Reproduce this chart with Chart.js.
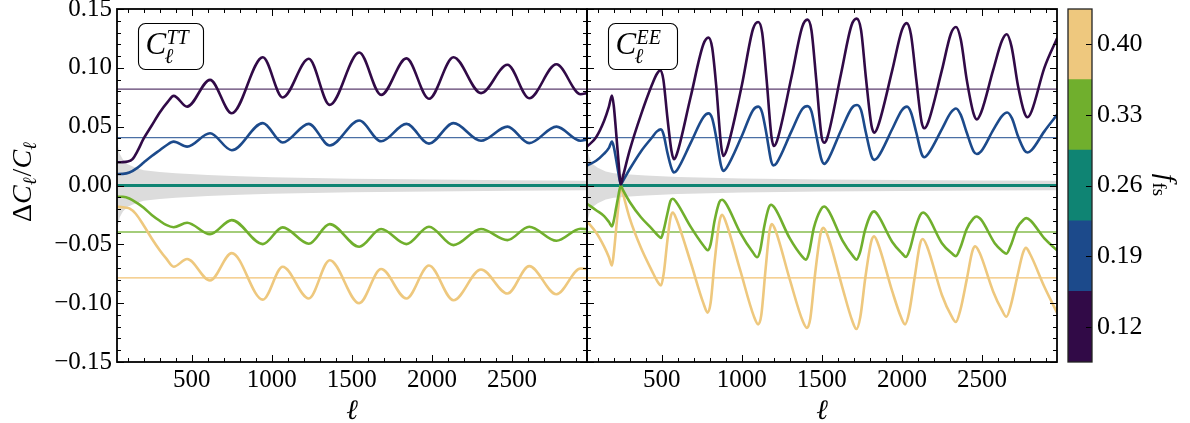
<!DOCTYPE html>
<html><head><meta charset="utf-8">
<script src="https://cdn.jsdelivr.net/npm/chart.js@4.4.1/dist/chart.umd.min.js"></script>
<style>
html,body{margin:0;padding:0;background:#fff;}
#wrap{position:relative;width:1190px;height:423px;overflow:hidden;background:#fff;}
canvas{position:absolute;top:0;}
</style></head><body>
<div id="wrap">
<canvas id="tt" width="600" height="423" style="left:0px"></canvas>
<canvas id="ee" width="600" height="423" style="left:500px"></canvas>
<canvas id="cb" width="130" height="423" style="left:1060px"></canvas>
</div>
<script>
// ---------------- data ----------------
const ELL_RANGE = [33, 2969];
const Y_RANGE = [-0.15, 0.15];
const X_TICK_LABELS = [500, 1000, 1500, 2000, 2500];
const X_MINOR_STEP = 100;
const Y_TICK_LABELS = [-0.15, -0.10, -0.05, 0.00, 0.05, 0.10, 0.15];
const Y_MINOR_STEP = 0.01;
const FFS_LABELS = ['0.12', '0.19', '0.26', '0.33', '0.40'];
const FFS_COLORS = ['#310a47', '#1c4a8b', '#0f8473', '#70af2d', '#eec87e'];
const REF_COLORS = ['#5b3d6e', '#4a6fa5', '#0f8473', '#86bd4e', '#f2c272'];
const REF_LEVELS = [0.0819, 0.0407, 0.0, -0.0395, -0.0785];

// TT panel
const TT_ELL_012 = [33,60,100,130,160,200,250,300,350,387,471,614,750,944,1068,1231,1362,1546,1683,1841,1982,2135,2307,2472,2608,2778,2929,2969];
const TT_012 = [0.0197,0.0198,0.0203,0.0225,0.029,0.040,0.051,0.062,0.071,0.0762,0.067,0.0898,0.0614,0.109,0.0748,0.1077,0.0685,0.113,0.077,0.108,0.0737,0.109,0.0785,0.1026,0.0742,0.103,0.0776,0.0785];
const TT_ELL_019 = [33,70,110,160,200,250,300,340,387,471,614,750,944,1068,1231,1362,1546,1683,1841,1982,2135,2307,2472,2608,2778,2929,2969];
const TT_019 = [0.0098,0.0099,0.011,0.015,0.0195,0.025,0.030,0.034,0.0373,0.033,0.0444,0.030,0.053,0.0365,0.0524,0.034,0.0552,0.0376,0.0524,0.0356,0.053,0.038,0.050,0.036,0.050,0.038,0.039];
const TT_ELL_026 = [33, 2969];
const TT_026 = [0.0, 0.0];
const TT_ELL_033 = [33,70,110,160,200,250,300,340,387,471,614,750,944,1068,1231,1362,1546,1683,1841,1982,2135,2307,2472,2608,2778,2929,2969];
const TT_033 = [-0.0095,-0.0096,-0.011,-0.015,-0.019,-0.025,-0.030,-0.0335,-0.0355,-0.0316,-0.0414,-0.0294,-0.0498,-0.0356,-0.0495,-0.0328,-0.052,-0.037,-0.0498,-0.035,-0.0507,-0.037,-0.0464,-0.035,-0.047,-0.0368,-0.037];
const TT_ELL_040 = [33,70,110,150,200,250,300,340,387,471,614,750,944,1068,1231,1362,1546,1683,1841,1982,2135,2307,2472,2608,2778,2929,2969];
const TT_040 = [-0.018,-0.0185,-0.0195,-0.024,-0.034,-0.045,-0.055,-0.062,-0.069,-0.0625,-0.0808,-0.0575,-0.097,-0.069,-0.096,-0.0635,-0.100,-0.071,-0.096,-0.068,-0.0975,-0.0714,-0.0918,-0.0685,-0.0924,-0.0705,-0.071];

// EE panel
const EE_ELL_012 = [33,90,140,170,189,200,215,230,244,258,300,370,440,470,492,510,535,560,576,595,680,760,792,815,840,870,885,905,1000,1070,1102,1127,1155,1185,1200,1220,1310,1378,1410,1435,1465,1498,1515,1535,1620,1685,1718,1745,1775,1810,1828,1850,1940,2000,2030,2057,2090,2123,2140,2165,2250,2306,2338,2368,2405,2448,2468,2495,2570,2625,2655,2685,2725,2765,2785,2810,2890,2969];
const EE_012 = [0.033,0.041,0.055,0.067,0.0765,0.068,0.045,0.020,0.001,0.008,0.030,0.060,0.086,0.095,0.098,0.090,0.058,0.030,0.0223,0.027,0.075,0.120,0.1257,0.117,0.085,0.035,0.0251,0.030,0.085,0.133,0.139,0.130,0.090,0.042,0.0336,0.038,0.092,0.135,0.141,0.132,0.090,0.042,0.0364,0.041,0.095,0.136,0.1418,0.132,0.092,0.051,0.0449,0.050,0.098,0.132,0.138,0.128,0.090,0.054,0.0486,0.054,0.098,0.129,0.1347,0.124,0.090,0.061,0.0562,0.062,0.098,0.123,0.1285,0.118,0.085,0.062,0.058,0.063,0.100,0.125];
const EE_ELL_019 = [33,90,140,170,189,200,215,230,244,258,300,370,440,470,495,512,535,560,576,595,680,760,792,815,840,870,885,905,1000,1070,1103,1127,1155,1183,1197,1217,1310,1378,1410,1435,1465,1498,1515,1535,1620,1688,1720,1745,1775,1810,1828,1850,1940,2000,2032,2057,2090,2123,2140,2165,2250,2306,2338,2368,2405,2448,2468,2495,2570,2625,2658,2688,2725,2765,2785,2810,2890,2969];
const EE_019 = [0.017,0.021,0.027,0.032,0.0373,0.033,0.022,0.010,0.001,0.004,0.014,0.029,0.041,0.046,0.0477,0.043,0.028,0.015,0.011,0.013,0.036,0.058,0.0613,0.057,0.041,0.017,0.0124,0.015,0.042,0.064,0.067,0.062,0.043,0.021,0.017,0.019,0.046,0.065,0.0675,0.063,0.043,0.022,0.0184,0.021,0.047,0.066,0.0684,0.064,0.045,0.025,0.0218,0.024,0.048,0.064,0.067,0.062,0.045,0.027,0.024,0.027,0.048,0.062,0.0655,0.060,0.045,0.029,0.0268,0.029,0.047,0.059,0.0621,0.057,0.042,0.030,0.028,0.030,0.046,0.060];
const EE_ELL_026 = [33, 2969];
const EE_026 = [0.0, 0.0];
const EE_ELL_033 = [33,90,140,170,189,200,215,230,244,258,300,370,440,480,495,512,535,555,569,590,680,760,787,805,830,860,877,900,990,1070,1096,1115,1140,1168,1183,1205,1300,1375,1400,1420,1450,1495,1514,1540,1630,1695,1716,1738,1770,1808,1826,1850,1940,2003,2025,2050,2085,2115,2132,2160,2250,2315,2337,2365,2405,2447,2466,2495,2580,2630,2653,2680,2720,2760,2777,2805,2890,2969];
const EE_033 = [-0.0155,-0.021,-0.026,-0.031,-0.0347,-0.030,-0.019,-0.008,0.0,-0.004,-0.014,-0.027,-0.037,-0.043,-0.0446,-0.038,-0.024,-0.013,-0.0113,-0.014,-0.035,-0.051,-0.055,-0.050,-0.030,-0.014,-0.0121,-0.015,-0.040,-0.057,-0.061,-0.055,-0.035,-0.019,-0.0164,-0.019,-0.045,-0.060,-0.063,-0.057,-0.036,-0.020,-0.0178,-0.021,-0.047,-0.060,-0.063,-0.057,-0.038,-0.024,-0.022,-0.025,-0.048,-0.058,-0.0607,-0.054,-0.036,-0.025,-0.0229,-0.026,-0.049,-0.058,-0.060,-0.053,-0.037,-0.028,-0.0263,-0.029,-0.049,-0.056,-0.058,-0.051,-0.036,-0.029,-0.0277,-0.030,-0.045,-0.055];
const EE_ELL_040 = [33,90,140,170,189,200,215,230,244,258,300,370,440,475,495,512,535,555,569,590,680,760,787,805,830,860,877,900,990,1075,1103,1122,1148,1173,1188,1210,1300,1380,1407,1428,1458,1492,1509,1535,1625,1690,1716,1740,1772,1808,1826,1850,1940,1995,2020,2045,2080,2113,2130,2158,2250,2310,2337,2365,2405,2440,2458,2485,2570,2625,2653,2682,2720,2757,2775,2800,2890,2969];
const EE_040 = [-0.0305,-0.040,-0.052,-0.061,-0.068,-0.058,-0.037,-0.016,0.0,-0.007,-0.028,-0.053,-0.073,-0.082,-0.085,-0.075,-0.047,-0.027,-0.0229,-0.028,-0.065,-0.100,-0.108,-0.100,-0.065,-0.031,-0.0249,-0.031,-0.072,-0.111,-0.118,-0.110,-0.072,-0.039,-0.0328,-0.038,-0.080,-0.115,-0.121,-0.113,-0.075,-0.041,-0.036,-0.042,-0.085,-0.115,-0.122,-0.112,-0.078,-0.048,-0.0432,-0.049,-0.090,-0.112,-0.118,-0.108,-0.078,-0.050,-0.0455,-0.052,-0.093,-0.111,-0.116,-0.106,-0.080,-0.056,-0.0517,-0.057,-0.090,-0.106,-0.1116,-0.101,-0.078,-0.057,-0.053,-0.058,-0.086,-0.108];

// grey error band (half width)
const BAND_ELL = [33,40,50,70,100,150,200,300,400,600,800,1000,1500,2000,2500,2969];
const BAND_TT = [0.040,0.033,0.027,0.022,0.018,0.015,0.013,0.0115,0.0105,0.009,0.0078,0.007,0.0058,0.005,0.0045,0.004];
const BAND_EE = [0.034,0.028,0.023,0.018,0.015,0.012,0.0105,0.0093,0.0085,0.0072,0.0066,0.006,0.0052,0.0047,0.0043,0.004];

// ---------------- rendering ----------------
const SERIF = "'Liberation Serif','DejaVu Serif',serif";
const pts = (xs, ys) => xs.map((x, i) => ({x: x, y: ys[i]}));
const X_TICKS = [];
for (let v = X_MINOR_STEP; v < ELL_RANGE[1]; v += X_MINOR_STEP) if (v > ELL_RANGE[0]) X_TICKS.push(v);
const Y_TICKS = [];
for (let k = Math.round(Y_RANGE[0] / Y_MINOR_STEP); k <= Math.round(Y_RANGE[1] / Y_MINOR_STEP); k++) Y_TICKS.push(k);

function drawParts(ctx, parts, x, y, align) {
  let w = 0;
  parts.forEach(p => { ctx.font = p.font; p.w = ctx.measureText(p.t).width; w += (p.dx || 0) + p.w; });
  let cx = align === 'center' ? x - w / 2 : x;
  parts.forEach(p => { ctx.font = p.font; cx += (p.dx || 0); ctx.fillText(p.t, cx, y + (p.dy || 0)); cx += p.w; });
}

const panelDeco = {
  id: 'panelDeco',
  afterDatasetsDraw(chart, args, opts) {
    const {ctx, chartArea: a, scales} = chart;
    const xs = scales.x, ys = scales.y;
    ctx.save();
    ctx.strokeStyle = '#000';
    ctx.lineWidth = 1;
    ctx.beginPath();
    X_TICKS.forEach(v => {
      const p = Math.round(xs.getPixelForValue(v)) + 0.5;
      const L = X_TICK_LABELS.includes(v) ? 7 : 4;
      ctx.moveTo(p, a.bottom); ctx.lineTo(p, a.bottom - L);
      ctx.moveTo(p, a.top); ctx.lineTo(p, a.top + L);
    });
    Y_TICKS.forEach(k => {
      const p = Math.round(ys.getPixelForValue(k * Y_MINOR_STEP)) + 0.5;
      const L = (k % 5 === 0) ? 7 : 4;
      ctx.moveTo(a.left, p); ctx.lineTo(a.left + L, p);
      ctx.moveTo(a.right, p); ctx.lineTo(a.right - L, p);
    });
    ctx.stroke();
    ctx.lineWidth = 1.8;
    ctx.strokeRect(a.left, a.top, a.right - a.left, a.bottom - a.top);

    // boxed panel label
    const bx = a.left + 21.5, by = a.top + 14.5, bw = opts.boxW, bh = 46;
    ctx.lineWidth = 1.1;
    ctx.beginPath();
    ctx.roundRect(bx, by, bw, bh, 7);
    ctx.fillStyle = '#fff';
    ctx.fill();
    ctx.stroke();
    ctx.fillStyle = '#000';
    ctx.textBaseline = 'alphabetic';
    ctx.font = `italic 31px ${SERIF}`;
    ctx.fillText('C', bx + 7, by + 30);
    ctx.font = `italic 20px ${SERIF}`;
    ctx.fillText(opts.sup, bx + 28, by + 20);
    ctx.font = `italic 21px ${SERIF}`;
    ctx.fillText('\u2113', bx + 26, by + 39);

    // x axis label
    ctx.font = `italic 28px ${SERIF}`;
    ctx.textAlign = 'center';
    ctx.fillText('\u2113', (a.left + a.right) / 2, 419);
    ctx.textAlign = 'left';

    // y axis label
    if (opts.ylabel) {
      ctx.save();
      ctx.translate(31, 182);
      ctx.rotate(-Math.PI / 2);
      drawParts(ctx, [
        {t: '\u0394', font: `28px ${SERIF}`},
        {t: 'C', font: `italic 28px ${SERIF}`},
        {t: '\u2113', font: `italic 19px ${SERIF}`, dy: 5},
        {t: '/', font: `28px ${SERIF}`, dx: 1},
        {t: 'C', font: `italic 28px ${SERIF}`},
        {t: '\u2113', font: `italic 19px ${SERIF}`, dy: 5}
      ], 0, 0, 'center');
      ctx.restore();
    }
    ctx.restore();
  }
};

function panel(id, leftW, padRight, series, band, sup, boxW, showY) {
  const datasets = [];
  datasets.push({data: pts(BAND_ELL, band), borderWidth: 0, backgroundColor: '#dcdcdc', fill: '+1', order: 10});
  datasets.push({data: pts(BAND_ELL, band.map(v => -v)), borderWidth: 0, backgroundColor: '#dcdcdc', fill: false, order: 10});
  REF_LEVELS.forEach((lv, i) => {
    if (i === 2) return;
    datasets.push({data: pts(ELL_RANGE, [lv, lv]), borderColor: REF_COLORS[i], borderWidth: 1.3, fill: false, order: 5});
  });
  series.forEach((s, i) => {
    datasets.push({data: pts(s[0], s[1]), borderColor: FFS_COLORS[i], borderWidth: i === 2 ? 3.2 : 2.6, fill: false,
      cubicInterpolationMode: 'monotone', order: i === 2 ? 4 : 1});
  });
  return new Chart(document.getElementById(id), {
    type: 'line',
    data: {datasets},
    options: {
      responsive: false, animation: false, events: [],
      layout: {padding: {left: 0, right: padRight, top: 9, bottom: 0}},
      elements: {point: {radius: 0}, line: {borderCapStyle: 'round', borderJoinStyle: 'round'}},
      plugins: {legend: {display: false}, tooltip: {enabled: false},
        panelDeco: {sup, boxW, ylabel: showY}},
      scales: {
        x: {type: 'linear', min: ELL_RANGE[0], max: ELL_RANGE[1],
          grid: {display: false, drawTicks: false}, border: {display: false},
          afterBuildTicks: s => { s.ticks = X_TICKS.map(v => ({value: v})); },
          afterFit: s => { s.height = 61; s.paddingLeft = 0; s.paddingRight = 0; },
          ticks: {autoSkip: false, maxRotation: 0, minRotation: 0, padding: 3, color: '#000',
            font: {family: SERIF, size: 25},
            callback: v => X_TICK_LABELS.includes(v) ? String(v) : ''}},
        y: {type: 'linear', min: Y_RANGE[0], max: Y_RANGE[1],
          grid: {display: false, drawTicks: false}, border: {display: false},
          afterBuildTicks: s => { s.ticks = Y_TICKS.map(k => ({value: k * Y_MINOR_STEP})); },
          afterFit: s => { s.width = leftW; s.paddingTop = 0; s.paddingBottom = 0; },
          ticks: {autoSkip: false, padding: 5, color: '#000', font: {family: SERIF, size: 25},
            callback: v => {
              if (!showY) return '';
              const m = Y_TICK_LABELS.find(t => Math.abs(t - v) < 1e-6);
              if (m === undefined) return '';
              return (m < 0 ? '\u2212' : '') + Math.abs(m).toFixed(2);
            }}}
      }
    },
    plugins: [panelDeco]
  });
}

panel('tt', 117, 13,
  [[TT_ELL_012, TT_012], [TT_ELL_019, TT_019], [TT_ELL_026, TT_026], [TT_ELL_033, TT_033], [TT_ELL_040, TT_040]],
  BAND_TT, 'TT', 65, true);
panel('ee', 87, 43,
  [[EE_ELL_012, EE_012], [EE_ELL_019, EE_019], [EE_ELL_026, EE_026], [EE_ELL_033, EE_033], [EE_ELL_040, EE_040]],
  BAND_EE, 'EE', 69, false);

// colorbar
const cbDeco = {
  id: 'cbDeco',
  afterDatasetsDraw(chart) {
    const {ctx, chartArea: a, scales} = chart;
    ctx.save();
    ctx.strokeStyle = '#000';
    ctx.lineWidth = 1;
    ctx.beginPath();
    FFS_LABELS.forEach((l, i) => {
      const p = Math.round(scales.y.getPixelForValue(i + 0.5)) + 0.5;
      ctx.moveTo(a.right, p); ctx.lineTo(a.right - 6, p);
    });
    ctx.stroke();
    ctx.strokeStyle = '#222';
    ctx.lineWidth = 1.3;
    ctx.strokeRect(a.left, a.top, a.right - a.left, a.bottom - a.top);
    ctx.fillStyle = '#000';
    ctx.translate(107, 185);
    ctx.rotate(Math.PI / 2);
    drawParts(ctx, [
      {t: 'f', font: `italic 28px ${SERIF}`},
      {t: 'fs', font: `19px ${SERIF}`, dy: 5, dx: 1}
    ], 0, 9, 'center');
    ctx.restore();
  }
};
new Chart(document.getElementById('cb'), {
  type: 'bar',
  data: {labels: [''], datasets: FFS_COLORS.map(c => ({data: [1], backgroundColor: c, borderWidth: 0,
    barPercentage: 1, categoryPercentage: 1}))},
  options: {
    responsive: false, animation: false, events: [],
    layout: {padding: {left: 8, right: 0, top: 9, bottom: 61}},
    plugins: {legend: {display: false}, tooltip: {enabled: false}},
    scales: {
      x: {stacked: true, display: false},
      y: {stacked: true, min: 0, max: FFS_LABELS.length, position: 'right',
        grid: {display: false, drawTicks: false}, border: {display: false},
        afterBuildTicks: s => { s.ticks = FFS_LABELS.map((l, i) => ({value: i + 0.5})); },
        afterFit: s => { s.width = 98; s.paddingTop = 0; s.paddingBottom = 0; },
        ticks: {autoSkip: false, padding: 5, color: '#000', font: {family: SERIF, size: 26},
          callback: (v, i) => FFS_LABELS[i]}}
    }
  },
  plugins: [cbDeco]
});
</script>
</body></html>
